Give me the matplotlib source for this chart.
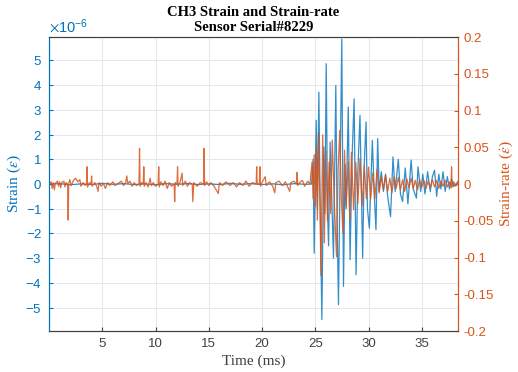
import matplotlib
matplotlib.use("Agg")
import matplotlib.pyplot as plt
from matplotlib.ticker import ScalarFormatter
import numpy as np

# --- Strain (x1e-6) : (temps ms, valeur) ---
strain_calme = [(0.0, 0.0), (1.0, 0.02), (2.0, -0.03), (3.0, 0.01), (4.0, -0.02), (5.0, 0.03),
                (6.0, -0.01), (7.0, 0.02), (8.0, -0.02), (9.0, 0.01), (10.0, -0.03), (11.0, 0.02),
                (12.0, -0.01), (13.0, 0.02), (14.0, -0.02), (15.0, 0.01), (16.0, -0.02),
                (17.0, 0.03), (18.0, -0.01), (19.0, 0.02), (20.0, -0.02), (21.0, 0.01),
                (22.0, -0.03), (23.0, 0.02), (24.0, -0.01), (24.65, 0.0)]
strain_choc = [(24.8, 1.0), (24.9, -2.8), (25.09, 2.58), (25.2, -1.0), (25.34, 3.72), (25.45, -0.5),
               (25.62, -5.48), (25.8, 1.5), (25.9, -1.2), (26.03, 4.87), (26.15, -1.0), (26.25, -2.5),
               (26.4, 1.7), (26.55, -0.6), (26.71, -3.0), (26.93, 3.99), (27.05, -1.5), (27.18, -4.88),
               (27.35, 1.0), (27.49, 5.87), (27.65, -4.14), (27.8, 0.8), (27.9, -1.0), (28.1, 3.12),
               (28.27, -3.06), (28.45, 1.0), (28.65, 3.45), (28.83, -3.67), (29.0, 0.5), (29.2, 2.78),
               (29.45, -3.0), (29.6, 0.8), (29.77, 2.51), (29.9, -1.0), (30.08, -1.79), (30.36, 1.77),
               (30.55, -0.5), (30.7, -1.85), (30.86, 1.84), (31.0, -0.3), (31.2, 0.5), (31.4, -0.3),
               (31.6, 0.4), (31.8, -0.5), (32.07, -1.32), (32.3, 1.1), (32.5, -0.3), (32.8, 1.0),
               (33.0, -0.4), (33.2, -0.71), (33.45, 0.65), (33.7, -0.8), (34.0, 0.97), (34.2, -0.2),
               (34.5, -0.57), (34.65, 0.7), (34.9, -0.3), (35.1, 0.4), (35.3, -0.4), (35.55, 0.5),
               (35.8, -0.3), (36.0, 0.3), (36.2, 0.56), (36.4, -0.5), (36.6, 0.4), (36.8, -0.2),
               (37.0, 0.5), (37.2, -0.3), (37.4, 0.3), (37.6, -0.2), (37.8, 0.2), (38.0, -0.1),
               (38.4, 0.1)]

# --- Strain-rate : (temps ms, valeur) ---
rate_calme = [(0.0, 0.0), (0.2, 0.003), (0.3, -0.006), (0.4, 0.002), (0.5, -0.008), (0.6, 0.001),
              (0.8, 0.004), (0.9, -0.003), (1.0, 0.003), (1.1, -0.005), (1.2, 0.002), (1.4, 0.004),
              (1.5, -0.004), (1.6, 0.002), (1.75, 0.0), (1.8, -0.049), (1.85, 0.0), (1.95, 0.006),
              (2.1, -0.002), (2.3, 0.005), (2.5, 0.008), (2.7, 0.003), (2.9, 0.006), (3.0, -0.003),
              (3.2, 0.002), (3.4, -0.002), (3.52, 0.0), (3.57, 0.0235), (3.62, -0.004), (3.8, 0.002),
              (3.95, 0.0), (4.0, 0.011), (4.05, -0.003), (4.3, 0.002), (4.5, -0.004), (4.6, -0.010),
              (4.7, 0.002), (4.9, -0.003), (5.1, 0.001), (5.3, -0.006), (5.5, 0.002), (5.7, -0.002),
              (6.0, 0.003), (6.2, -0.002), (6.5, 0.001), (6.8, 0.004), (7.0, -0.002), (7.2, 0.002),
              (7.3, 0.011), (7.4, 0.001), (7.6, 0.004), (7.8, -0.003), (8.0, 0.002), (8.2, -0.002),
              (8.45, 0.0), (8.5, 0.0485), (8.55, -0.003), (8.7, 0.002), (8.85, 0.0), (8.9, 0.0235),
              (8.95, -0.003), (9.1, 0.002), (9.3, -0.004), (9.5, 0.008), (9.6, -0.002), (9.8, 0.002),
              (10.0, -0.003), (10.25, 0.0), (10.3, 0.0235), (10.35, -0.004), (10.5, 0.003),
              (10.7, -0.002), (10.9, 0.004), (11.1, -0.006), (11.3, 0.002), (11.5, -0.003),
              (11.75, 0.0), (11.8, -0.024), (11.85, 0.002), (12.02, 0.0), (12.07, 0.0235),
              (12.12, -0.003), (12.3, 0.002), (12.5, 0.015), (12.55, -0.002), (12.8, 0.004),
              (13.0, -0.003), (13.2, 0.002), (13.45, 0.0), (13.5, -0.024), (13.55, -0.012),
              (13.6, 0.002), (13.9, -0.003), (14.2, 0.002), (14.51, 0.0), (14.56, 0.0485),
              (14.61, -0.002), (14.8, 0.003), (15.0, -0.002), (15.2, 0.002), (15.5, -0.003),
              (15.9, -0.013), (16.0, 0.002), (16.3, -0.002), (16.6, 0.003), (17.0, -0.002),
              (17.3, 0.002), (17.6, -0.004), (17.9, 0.002), (18.2, -0.002), (18.5, 0.004),
              (18.8, -0.003), (19.1, 0.002), (19.45, 0.0), (19.5, 0.0235), (19.55, 0.0),
              (19.75, 0.0), (19.8, 0.0235), (19.85, -0.003), (20.0, 0.002), (20.3, 0.010),
              (20.4, -0.002), (20.7, 0.003), (21.0, -0.003), (21.2, -0.012), (21.3, 0.002),
              (21.6, 0.004), (21.9, -0.002), (22.2, 0.003), (22.6, -0.010), (22.7, 0.002),
              (23.0, 0.004), (23.25, 0.0), (23.3, 0.016), (23.35, -0.002), (23.6, 0.003),
              (23.8, 0.005), (24.0, -0.003), (24.3, 0.004), (24.5, 0.0)]
rate_choc = [(24.7, 0.03), (24.8, -0.02), (24.9, 0.04), (25.0, -0.03), (25.1, 0.05), (25.2, -0.049),
             (25.3, 0.069), (25.45, -0.03), (25.53, -0.124), (25.7, 0.067), (25.85, -0.08),
             (26.0, 0.046), (26.15, -0.05), (26.3, 0.03), (26.45, -0.04), (26.6, 0.06), (26.8, -0.03),
             (27.0, -0.099), (27.15, 0.02), (27.3, 0.073), (27.45, -0.02), (27.6, -0.067),
             (27.75, 0.046), (27.9, -0.03), (28.1, 0.03), (28.25, -0.049), (28.4, 0.043),
             (28.6, -0.035), (28.8, 0.03), (29.0, -0.027), (29.2, 0.035), (29.4, -0.03), (29.6, 0.025),
             (29.8, -0.02), (30.0, 0.023), (30.2, -0.02), (30.4, 0.015), (30.6, -0.02), (30.8, 0.02),
             (31.0, -0.012), (31.2, 0.01), (31.4, -0.008), (31.6, 0.012), (31.8, -0.01), (32.0, 0.008),
             (32.2, -0.012), (32.4, 0.01), (32.6, -0.006), (32.8, 0.009), (33.0, -0.008), (33.2, 0.006),
             (33.4, -0.01), (33.6, 0.007), (33.8, -0.005), (34.0, 0.008), (34.2, -0.006), (34.4, 0.005),
             (34.6, -0.008), (34.8, 0.006), (35.0, -0.004), (35.2, 0.005), (35.4, -0.006), (35.6, 0.004),
             (35.8, -0.005), (36.0, 0.006), (36.2, -0.004), (36.4, 0.005), (36.6, -0.006), (36.8, 0.004),
             (37.0, -0.003), (37.2, 0.005), (37.4, -0.004), (37.6, 0.003), (37.75, -0.005),
             (37.8, 0.0235), (37.85, -0.004), (38.0, 0.003), (38.2, -0.003), (38.4, 0.002)]

strain_t, strain_v = zip(*(strain_calme + strain_choc))
rate_t, rate_v = zip(*(rate_calme + rate_choc))

plt.rcParams['axes.unicode_minus'] = False
plt.rcParams['mathtext.fontset'] = 'stix'

bleu = '#0072BD'
orange = '#D95319'

fig = plt.figure(figsize=(5.18, 3.72), dpi=100)
ax1 = fig.add_axes([0.0946, 0.110, 0.7895, 0.7905])
ax2 = ax1.twinx()

ax1.plot(strain_t, np.array(strain_v) * 1e-6, color=bleu, linewidth=0.9, alpha=0.8)
ax2.plot(rate_t, rate_v, color=orange, linewidth=0.9, alpha=0.85)

ax1.set_xlim(0, 38.4)
ax1.set_ylim(-5.95e-6, 5.95e-6)
ax2.set_ylim(-0.2, 0.2)
ax1.set_xticks([5, 10, 15, 20, 25, 30, 35])
ax1.set_yticks([i * 1e-6 for i in range(-5, 6)])
ax2.set_yticks([-0.2, -0.15, -0.1, -0.05, 0, 0.05, 0.1, 0.15, 0.2])
ax2.set_yticklabels(['-0.2', '-0.15', '-0.1', '-0.05', '0', '0.05', '0.1', '0.15', '0.2'])

fmt = ScalarFormatter(useMathText=True)
fmt.set_powerlimits((0, 0))
ax1.yaxis.set_major_formatter(fmt)
ax1.yaxis.get_offset_text().set_color(bleu)
ax1.yaxis.get_offset_text().set_fontsize(10.5)
ax1.yaxis.get_offset_text().set_family('Liberation Sans')

ax1.grid(True, color='#e3e8ee', linewidth=0.7)
ax1.set_axisbelow(True)

for lab in ax1.get_xticklabels() + ax1.get_yticklabels() + ax2.get_yticklabels():
    lab.set_family('Liberation Sans')
ax1.tick_params(axis='x', direction='in', labelsize=9.5, colors='#404040', length=3, pad=5)
ax1.tick_params(axis='y', direction='in', labelsize=9.5, colors=bleu, length=3, pad=5)
ax2.tick_params(axis='y', direction='in', labelsize=9.5, colors=orange, length=3, pad=4)

for a in (ax1, ax2):
    a.spines['top'].set_color('#404040')
    a.spines['bottom'].set_color('#404040')
    a.spines['left'].set_color(bleu)
    a.spines['right'].set_color(orange)
    for s in a.spines.values():
        s.set_linewidth(0.8)

ax1.set_xlabel('Time (ms)', family='Liberation Serif', fontsize=11, color='#404040', labelpad=3)
ax1.set_ylabel(r'Strain ($\epsilon$)', family='Liberation Serif', fontsize=11, color=bleu, labelpad=2)
ax2.set_ylabel(r'Strain-rate ($\dot{\epsilon}$)', family='Liberation Serif', fontsize=11,
               color=orange, labelpad=3)
ax1.set_title('CH3 Strain and Strain-rate\nSensor Serial#8229', family='Liberation Serif',
              fontsize=10.5, fontweight='bold', linespacing=1.2, pad=4)

fig.savefig('out.png', dpi=100)
